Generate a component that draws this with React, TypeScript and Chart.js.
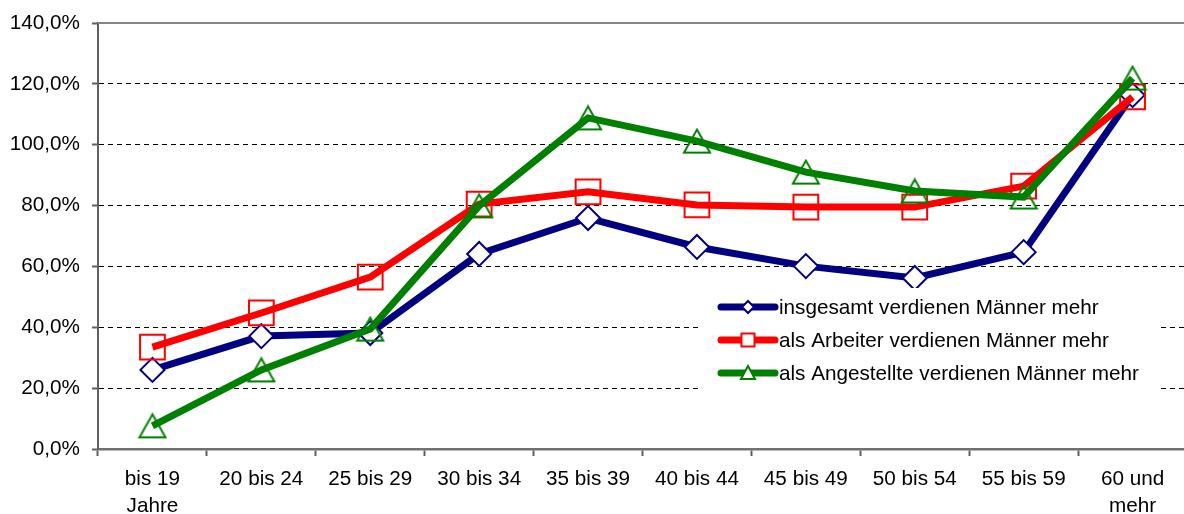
import React, { useEffect, useRef } from "react";
import { Chart, registerables } from "chart.js";

Chart.register(...registerables);

const categories: (string | string[])[] = [
  ["bis 19", "Jahre"],
  "20 bis 24",
  "25 bis 29",
  "30 bis 34",
  "35 bis 39",
  "40 bis 44",
  "45 bis 49",
  "50 bis 54",
  "55 bis 59",
  ["60 und", "mehr"],
];

const insgesamt = [26.0, 37.1, 38.1, 64.1, 75.9, 66.4, 60.1, 56.2, 64.7, 116.3];
const arbeiter = [33.5, 44.7, 56.5, 80.5, 84.5, 80.2, 79.5, 79.5, 86.4, 115.7];
const angestellte = [7.6, 26.0, 39.4, 79.9, 108.8, 101.2, 91.0, 84.8, 82.8, 121.9];

const seriesNames = [
  "insgesamt verdienen Männer mehr",
  "als Arbeiter verdienen Männer mehr",
  "als Angestellte verdienen Männer mehr",
];

const yTicks = [0, 20, 40, 60, 80, 100, 120, 140];

const FONT = '"Liberation Sans", Arial, sans-serif';
const FS = 20.7;

function makeTriangle(color: string): HTMLCanvasElement {
  const c = document.createElement("canvas");
  c.width = 30;
  c.height = 27;
  const g = c.getContext("2d")!;
  g.strokeStyle = color;
  g.lineWidth = 2;
  g.lineJoin = "miter";
  g.beginPath();
  g.moveTo(15, 2);
  g.lineTo(28, 25);
  g.lineTo(2, 25);
  g.closePath();
  g.stroke();
  return c;
}

const frameAndLegend = {
  id: "frameAndLegend",
  afterDraw(chart: any) {
    const ctx = chart.ctx as CanvasRenderingContext2D;
    const a = chart.chartArea;
    ctx.save();
    ctx.strokeStyle = "#858585";
    ctx.lineWidth = 2;
    ctx.beginPath();
    ctx.moveTo(a.left, a.top);
    ctx.lineTo(a.right, a.top);
    ctx.stroke();

    ctx.fillStyle = "#ffffff";
    ctx.fillRect(700, 288, 461, 104);
    const ys = [307, 340, 373];
    const shapes = ["diamond", "square", "triangle"];
    chart.data.datasets.forEach((ds: any, i: number) => {
      const y = ys[i];
      ctx.strokeStyle = ds.borderColor;
      ctx.lineWidth = 7;
      ctx.lineCap = "round";
      ctx.beginPath();
      ctx.moveTo(721, y);
      ctx.lineTo(775, y);
      ctx.stroke();
      ctx.lineCap = "butt";
      ctx.lineWidth = 2;
      ctx.fillStyle = "#ffffff";
      const cx = 748;
      ctx.beginPath();
      if (shapes[i] === "diamond") {
        ctx.moveTo(cx, y - 6);
        ctx.lineTo(cx + 6, y);
        ctx.lineTo(cx, y + 6);
        ctx.lineTo(cx - 6, y);
        ctx.closePath();
      } else if (shapes[i] === "square") {
        ctx.rect(cx - 6.5, y - 6.5, 13, 13);
      } else {
        ctx.moveTo(cx, y - 7);
        ctx.lineTo(cx + 7, y + 6);
        ctx.lineTo(cx - 7, y + 6);
        ctx.closePath();
      }
      ctx.fill();
      ctx.stroke();
      ctx.fillStyle = "#000000";
      ctx.font = `${FS}px ${FONT}`;
      ctx.textBaseline = "middle";
      ctx.textAlign = "left";
      ctx.fillText(seriesNames[i], 779, y + 1);
    });
    ctx.restore();
  },
};

export default function App() {
  const ref = useRef<HTMLCanvasElement>(null);

  useEffect(() => {
    if (!ref.current) return;
    const tri = makeTriangle("#008000");
    const chart = new Chart(ref.current, {
      type: "line",
      data: {
        labels: categories as any,
        datasets: [
          {
            label: seriesNames[0],
            data: insgesamt,
            borderColor: "#000080",
            backgroundColor: "#ffffff",
            borderWidth: 7,
            pointStyle: "rectRot",
            pointRadius: 12,
            pointBorderWidth: 2,
            pointBackgroundColor: "#ffffff",
            pointBorderColor: "#000080",
            tension: 0,
            order: 2,
            clip: false,
          },
          {
            label: seriesNames[1],
            data: arbeiter,
            borderColor: "#ff0000",
            backgroundColor: "#ffffff",
            borderWidth: 7,
            pointStyle: "rect",
            pointRadius: 17.5,
            pointBorderWidth: 2,
            pointBackgroundColor: "rgba(255,255,255,0)",
            pointBorderColor: "#ff0000",
            tension: 0,
            order: 1,
            clip: false,
          },
          {
            label: seriesNames[2],
            data: angestellte,
            borderColor: "#008000",
            backgroundColor: "#ffffff",
            borderWidth: 7,
            pointStyle: tri as any,
            pointRadius: 15,
            pointBorderWidth: 2,
            pointBackgroundColor: "rgba(255,255,255,0)",
            pointBorderColor: "#008000",
            tension: 0,
            order: 0,
            clip: false,
          },
        ],
      },
      options: {
        animation: false,
        responsive: false,
        devicePixelRatio: 1,
        layout: { autoPadding: false, padding: { top: 23, right: 3, left: 0, bottom: 0 } },
        plugins: {
          legend: { display: false },
          tooltip: { enabled: false },
          title: { display: false },
        },
        scales: {
          x: {
            offset: true,
            grid: {
              offset: true,
              drawOnChartArea: false,
              drawTicks: true,
              tickLength: 7,
              tickColor: "#606060",
              tickWidth: 2,
            },
            border: { display: true, color: "#707070", width: 2.5 },
            ticks: {
              color: "#000000",
              font: { family: FONT, size: FS, lineHeight: 1.3 },
              padding: 10,
              maxRotation: 0,
              autoSkip: false,
            },
            afterFit(scale: any) {
              scale.height = 65;
              scale.paddingLeft = 0;
              scale.paddingRight = 0;
            },
          },
          y: {
            min: 0,
            max: 140,
            afterBuildTicks(scale: any) {
              scale.ticks = yTicks.map((v) => ({ value: v }));
            },
            grid: {
              color: (c: any) =>
                c.tick && (c.tick.value === 140 || c.tick.value === 0)
                  ? "rgba(0,0,0,0)"
                  : "#000000",
              lineWidth: 1,
              drawTicks: true,
              tickLength: 6,
              tickColor: "#606060",
              tickWidth: 2,
            },
            border: { display: true, color: "#606060", width: 2, dash: [5, 4] },
            ticks: {
              color: "#000000",
              font: { family: FONT, size: FS },
              padding: 12,
              callback: (v: any) => Number(v).toFixed(1).replace(".", ",") + "%",
            },
            afterFit(scale: any) {
              scale.width = 98;
              scale.paddingTop = 0;
              scale.paddingBottom = 0;
            },
          },
        },
      },
      plugins: [frameAndLegend],
    });
    return () => chart.destroy();
  }, []);

  return (
    <div
      style={{
        position: "fixed",
        left: 0,
        top: 0,
        width: 1184,
        height: 514,
        overflow: "hidden",
        background: "#ffffff",
      }}
    >
      <canvas ref={ref} width={1190} height={514} style={{ width: 1190, height: 514, display: "block" }} />
    </div>
  );
}
